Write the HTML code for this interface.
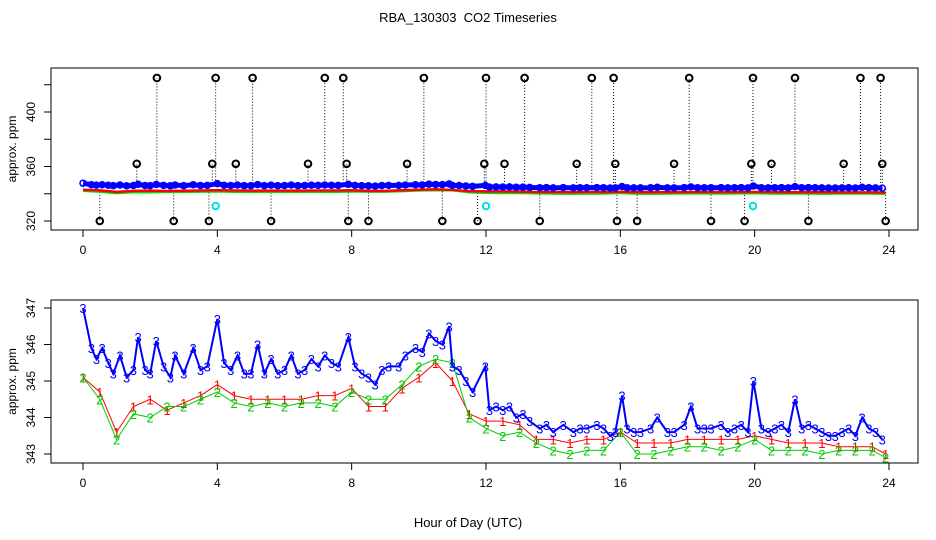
<!DOCTYPE html>
<html><head><meta charset="utf-8"><style>
body{margin:0;background:#fff}
svg{display:block;font-family:"Liberation Sans",sans-serif}
</style></head><body>
<svg id="c" width="936" height="540" viewBox="0 0 936 540">
<text x="468" y="22" text-anchor="middle" font-size="13" xml:space="preserve">RBA_130303  CO2 Timeseries</text>
<text x="468" y="527" text-anchor="middle" font-size="13">Hour of Day (UTC)</text>
<g id="topPanel"></g>
<g id="botPanel"></g>
</svg>
<script>
const hoursB=[0,0.25,0.4,0.57,0.75,0.9,1.1,1.3,1.5,1.64,1.85,2.0,2.18,2.4,2.6,2.74,3.0,3.28,3.5,3.7,4.0,4.2,4.4,4.6,4.8,5.0,5.2,5.4,5.6,5.8,6.0,6.2,6.4,6.6,6.8,7.0,7.2,7.4,7.6,7.9,8.1,8.3,8.5,8.7,8.9,9.1,9.4,9.6,9.9,10.1,10.3,10.5,10.7,10.9,11.0,11.2,11.4,11.6,11.98,12.1,12.3,12.5,12.7,12.9,13.1,13.3,13.6,13.8,14.0,14.3,14.6,14.8,15.0,15.3,15.5,15.7,15.85,16.05,16.2,16.4,16.6,16.9,17.1,17.4,17.6,17.9,18.1,18.3,18.5,18.7,19.0,19.2,19.4,19.6,19.8,19.96,20.2,20.4,20.6,20.8,21.0,21.2,21.4,21.6,21.8,22.0,22.2,22.4,22.6,22.8,23.0,23.2,23.4,23.6,23.8];
const series3=[347.0,345.9,345.6,345.9,345.5,345.2,345.7,345.1,345.3,346.2,345.3,345.2,346.1,345.4,345.1,345.7,345.2,345.9,345.3,345.4,346.7,345.5,345.3,345.7,345.2,345.2,346.0,345.2,345.6,345.2,345.3,345.7,345.2,345.3,345.6,345.4,345.7,345.5,345.4,346.2,345.4,345.2,345.1,344.9,345.3,345.4,345.4,345.7,345.9,345.8,346.3,346.1,346.0,346.5,345.4,345.3,345.0,344.7,345.4,344.2,344.3,344.2,344.3,344.0,344.1,343.9,343.7,343.8,343.6,343.8,343.6,343.7,343.7,343.8,343.7,343.5,343.6,344.6,343.7,343.6,343.6,343.7,344.0,343.6,343.6,343.8,344.3,343.7,343.7,343.7,343.8,343.6,343.7,343.8,343.6,345.0,343.7,343.6,343.7,343.8,343.6,344.5,343.7,343.8,343.7,343.6,343.5,343.5,343.6,343.7,343.5,344.0,343.7,343.6,343.4];
const hoursRG=[0,0.5,1,1.5,2,2.5,3,3.5,4,4.5,5,5.5,6,6.5,7,7.5,8,8.5,9,9.5,10,10.5,11,11.5,12,12.5,13,13.5,14,14.5,15,15.5,16,16.5,17,17.5,18,18.5,19,19.5,20,20.5,21,21.5,22,22.5,23,23.5,23.9];
const series1=[345.1,344.7,343.6,344.3,344.5,344.2,344.4,344.6,344.9,344.6,344.5,344.5,344.5,344.5,344.6,344.6,344.8,344.3,344.3,344.8,345.1,345.5,345.0,344.1,343.9,343.9,343.8,343.4,343.4,343.3,343.4,343.4,343.6,343.3,343.3,343.3,343.4,343.4,343.4,343.4,343.5,343.4,343.3,343.3,343.3,343.2,343.2,343.2,343.0];
const series2=[345.1,344.5,343.4,344.1,344.0,344.3,344.3,344.5,344.7,344.4,344.3,344.4,344.3,344.4,344.4,344.3,344.7,344.5,344.5,344.9,345.4,345.6,345.5,344.0,343.7,343.5,343.6,343.3,343.1,343.0,343.1,343.1,343.6,343.0,343.0,343.1,343.2,343.2,343.1,343.2,343.4,343.1,343.1,343.1,343.0,343.1,343.1,343.1,342.9];
const outHighHours=[2.2,3.95,5.05,7.2,7.75,10.15,12.0,13.15,15.15,15.8,18.05,19.95,21.2,23.15,23.75];
const outMidHours=[1.6,3.85,4.55,6.7,7.85,9.65,11.95,12.55,14.7,15.85,17.6,19.9,20.5,22.65,23.8];
const outLowHours=[0.5,2.7,3.75,5.6,7.9,8.5,10.7,11.75,13.6,15.9,16.5,18.7,19.7,21.6,23.9];
const cyanHours=[3.95,12.0,19.95];
const outHighVal=425, outMidVal=362, outLowVal=320, cyanVal=331;
const xTicks=[0,4,8,12,16,20,24];
const topYTicks=[320,340,360,380,400,420];
const topYLabels=[320,360,400];
const botYTicks=[343,344,345,346,347];

const NS="http://www.w3.org/2000/svg";
function el(p,t,a){const e=document.createElementNS(NS,t);for(const k in a)e.setAttribute(k,a[k]);p.appendChild(e);return e;}
const X=h=>83+h*(889-83)/24;
const YT=v=>221-(v-320)*(221-112)/80;
const YB=v=>454-(v-343)*(454-308)/4;
const topG=document.getElementById('topPanel'), botG=document.getElementById('botPanel');

function axes(g,y0,y1,ticks,labels,Yf,name){
  const b=el(g,'rect',{x:51,y:y0,width:867,height:y1-y0,fill:'none',stroke:'#000'});
  
  
  xTicks.forEach(h=>{
    const l=el(g,'line',{x1:X(h),x2:X(h),y1:y1,y2:y1+7,stroke:'#000'});
    
    
    const t=el(g,'text',{x:X(h),y:y1+24,'text-anchor':'middle','font-size':12});
    t.textContent=h;
    
    
  });
  ticks.forEach(v=>{
    const l=el(g,'line',{x1:44,x2:51,y1:Yf(v),y2:Yf(v),stroke:'#000'});
    
    
  });
  labels.forEach(v=>{
    const t=el(g,'text',{x:0,y:0,'text-anchor':'middle','font-size':12,transform:`translate(35,${Yf(v)}) rotate(-90)`});
    t.textContent=v;
    
    
  });
  const at=el(g,'text',{x:0,y:0,'text-anchor':'middle','font-size':12,transform:`translate(16,${(y0+y1)/2}) rotate(-90)`});
  at.textContent='approx. ppm';
  
  
}
axes(topG,68,230,topYTicks,topYLabels,YT,'top');
axes(botG,300,463,botYTicks,botYTicks,YB,'bottom');

function outliers(hs,val){
  hs.forEach(h=>{
    const base=series3[Math.min(series3.length-1,Math.round(h/24*(series3.length-1)))];
    const ln=el(topG,'line',{x1:X(h),x2:X(h),y1:YT(base),y2:YT(val),stroke:'#000','stroke-dasharray':'1,2'});
    
    
  });
}
outliers(outHighHours,outHighVal);outliers(outMidHours,outMidVal);outliers(outLowHours,outLowVal);
const band=[['#00dd00',series2,hoursRG,4],['#ff0000',series1,hoursRG,3]];
band.forEach(([c,s,hs,o])=>{
  const p=el(topG,'polyline',{points:hs.map((h,i)=>X(h)+','+(YT(s[i])+o)).join(' '),fill:'none',stroke:c,'stroke-width':2.5});
  
  
});
const bp=el(topG,'polyline',{points:hoursB.map((h,i)=>X(h)+','+(YT(series3[i])-1)).join(' '),fill:'none',stroke:'#0000ff','stroke-width':5});


hoursB.forEach((h,i)=>{
  const c=el(topG,'circle',{cx:X(h),cy:YT(series3[i])-1,r:3,fill:'none',stroke:'#0000ff','stroke-width':1.5});
  
  
});
function circ(hs,val,col){
  hs.forEach(h=>{
    const c=el(topG,'circle',{cx:X(h),cy:YT(val),r:3.3,fill:'none',stroke:col,'stroke-width':2});
    
    
  });
}
const cl=el(topG,'rect',{x:52,y:69,width:865,height:5,fill:'#fff'});


circ(outHighHours,outHighVal,'#000');circ(outMidHours,outMidVal,'#000');circ(outLowHours,outLowVal,'#000');circ(cyanHours,cyanVal,'#00e0e0');

function seriesB(hs,s,col,label,name,w){
  const p=el(botG,'polyline',{points:hs.map((h,i)=>X(h)+','+YB(s[i])).join(' '),fill:'none',stroke:col,'stroke-width':w});
  
  
  hs.forEach((h,i)=>{
    const t=el(botG,'text',{x:X(h),y:YB(s[i])+5,'text-anchor':'middle','font-size':13,fill:col});
    t.textContent=label;
    
    
  });
}
seriesB(hoursRG,series1,'#ff0000','1','series-1',1);
seriesB(hoursRG,series2,'#00cc00','2','series-2',1);
seriesB(hoursB,series3,'#0000ff','3','series-3',2);
</script>
</body></html>
